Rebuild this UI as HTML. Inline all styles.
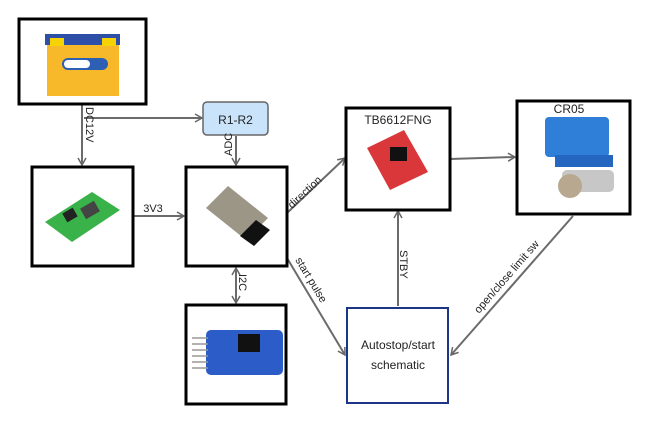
<!DOCTYPE html>
<html><head><meta charset="utf-8"><style>
html,body{margin:0;padding:0;background:#fff;width:651px;height:425px;overflow:hidden}
text{font-family:"Liberation Sans",sans-serif;fill:#222}
</style></head><body>
<svg width="651" height="425" viewBox="0 0 651 425" xmlns="http://www.w3.org/2000/svg">
<defs>
<marker id="a" markerWidth="10" markerHeight="10" refX="8" refY="5" orient="auto" markerUnits="userSpaceOnUse">
<path d="M1,1 L8,5 L1,9" fill="none" stroke="#666" stroke-width="1.5"/></marker>
<marker id="b" markerWidth="10" markerHeight="10" refX="2" refY="5" orient="auto" markerUnits="userSpaceOnUse">
<path d="M9,1 L2,5 L9,9" fill="none" stroke="#666" stroke-width="1.5"/></marker>
</defs>
<g stroke="#6b6b6b" stroke-width="2" fill="none">
<line x1="82" y1="105" x2="82" y2="165" marker-end="url(#a)"/>
<line x1="84" y1="118" x2="202" y2="118" marker-end="url(#a)"/>
<line x1="236" y1="136" x2="236" y2="165" marker-end="url(#a)"/>
<line x1="134" y1="216" x2="184" y2="216" marker-end="url(#a)"/>
<line x1="287" y1="213" x2="345" y2="158" marker-end="url(#a)"/>
<line x1="450" y1="159" x2="515" y2="157" marker-end="url(#a)"/>
<line x1="398" y1="306" x2="398" y2="211" marker-end="url(#a)"/>
<line x1="287" y1="258" x2="345" y2="355" marker-end="url(#a)"/>
<line x1="573" y1="216" x2="451" y2="355" marker-end="url(#a)"/>
<line x1="236" y1="268" x2="236" y2="303" marker-start="url(#b)" marker-end="url(#a)"/>
</g>
<g fill="#fff" stroke="#000" stroke-width="3">
<rect x="19" y="19" width="127" height="85"/>
<rect x="32" y="167" width="101" height="99"/>
<rect x="186" y="167" width="101" height="99"/>
<rect x="186" y="305" width="100" height="99"/>
<rect x="346" y="108" width="104" height="102"/>
<rect x="517" y="101" width="113" height="113"/>
</g>
<rect x="347" y="308" width="101" height="95" fill="#fff" stroke="#1d3585" stroke-width="2"/>
<rect x="203" y="102" width="65" height="33" rx="4" fill="#c9e3fb" stroke="#666" stroke-width="1.5"/>
<text x="235.5" y="124" font-size="12" text-anchor="middle">R1-R2</text>
<!-- battery -->
<rect x="47" y="40" width="72" height="56" fill="#f7b82a"/>
<rect x="45" y="34" width="75" height="11" fill="#2d4fa8"/>
<rect x="50" y="38" width="14" height="8" fill="#f5d200"/>
<rect x="102" y="38" width="14" height="8" fill="#f5d200"/>
<rect x="62" y="58" width="46" height="12" rx="6" fill="#2d5fb5"/>
<rect x="64" y="60" width="26" height="8" rx="4" fill="#fff"/>
<!-- converter -->
<polygon points="45,222 92,192 120,210 72,242" fill="#39b24a"/>
<rect x="82" y="204" width="16" height="12" fill="#444" transform="rotate(-30 90 210)"/>
<rect x="64" y="210" width="12" height="10" fill="#222" transform="rotate(-30 70 215)"/>
<!-- ESP -->
<polygon points="206,208 228,186 268,218 246,240" fill="#9b9686"/>
<polygon points="240,236 256,220 270,230 254,246" fill="#111"/>
<!-- RTC -->
<rect x="206" y="330" width="77" height="45" rx="5" fill="#2b5cc8"/>
<rect x="238" y="334" width="22" height="18" fill="#111"/>
<g stroke="#999" stroke-width="1.5"><line x1="192" y1="338" x2="208" y2="338"/><line x1="192" y1="344" x2="208" y2="344"/><line x1="192" y1="350" x2="208" y2="350"/><line x1="192" y1="356" x2="208" y2="356"/><line x1="192" y1="362" x2="208" y2="362"/><line x1="192" y1="368" x2="208" y2="368"/></g>
<!-- TB -->
<polygon points="367,148 404,130 428,172 390,190" fill="#d9373a"/>
<rect x="390" y="147" width="17" height="14" fill="#111"/>
<!-- valve -->
<rect x="545" y="117" width="64" height="40" rx="4" fill="#2f7fd8"/>
<rect x="555" y="155" width="58" height="12" fill="#2566c0"/>
<rect x="562" y="170" width="52" height="22" rx="5" fill="#c7c7c7"/>
<ellipse cx="570" cy="186" rx="12" ry="12" fill="#b8a890"/>
<!-- labels -->
<text x="398" y="124" font-size="12" text-anchor="middle">TB6612FNG</text>
<text x="569" y="113" font-size="12" text-anchor="middle">CR05</text>
<text x="398" y="349" font-size="12" text-anchor="middle">Autostop/start</text>
<text x="398" y="369" font-size="12" text-anchor="middle">schematic</text>
<text x="153" y="212" font-size="11" text-anchor="middle">3V3</text>
<text font-size="11" transform="translate(86,107) rotate(90)">DC12V</text>
<text font-size="11" transform="translate(232,156) rotate(-90)">ADC</text>
<text font-size="11" transform="translate(239,274) rotate(90)">I2C</text>
<text font-size="11" transform="translate(400,250) rotate(90)">STBY</text>
<text font-size="11" transform="translate(292,209) rotate(-43)">direction</text>
<text font-size="11" transform="translate(295,260) rotate(59)">start pulse</text>
<text font-size="11" transform="translate(479,314) rotate(-49)">open/close limit sw</text>
</svg>
</body></html>
